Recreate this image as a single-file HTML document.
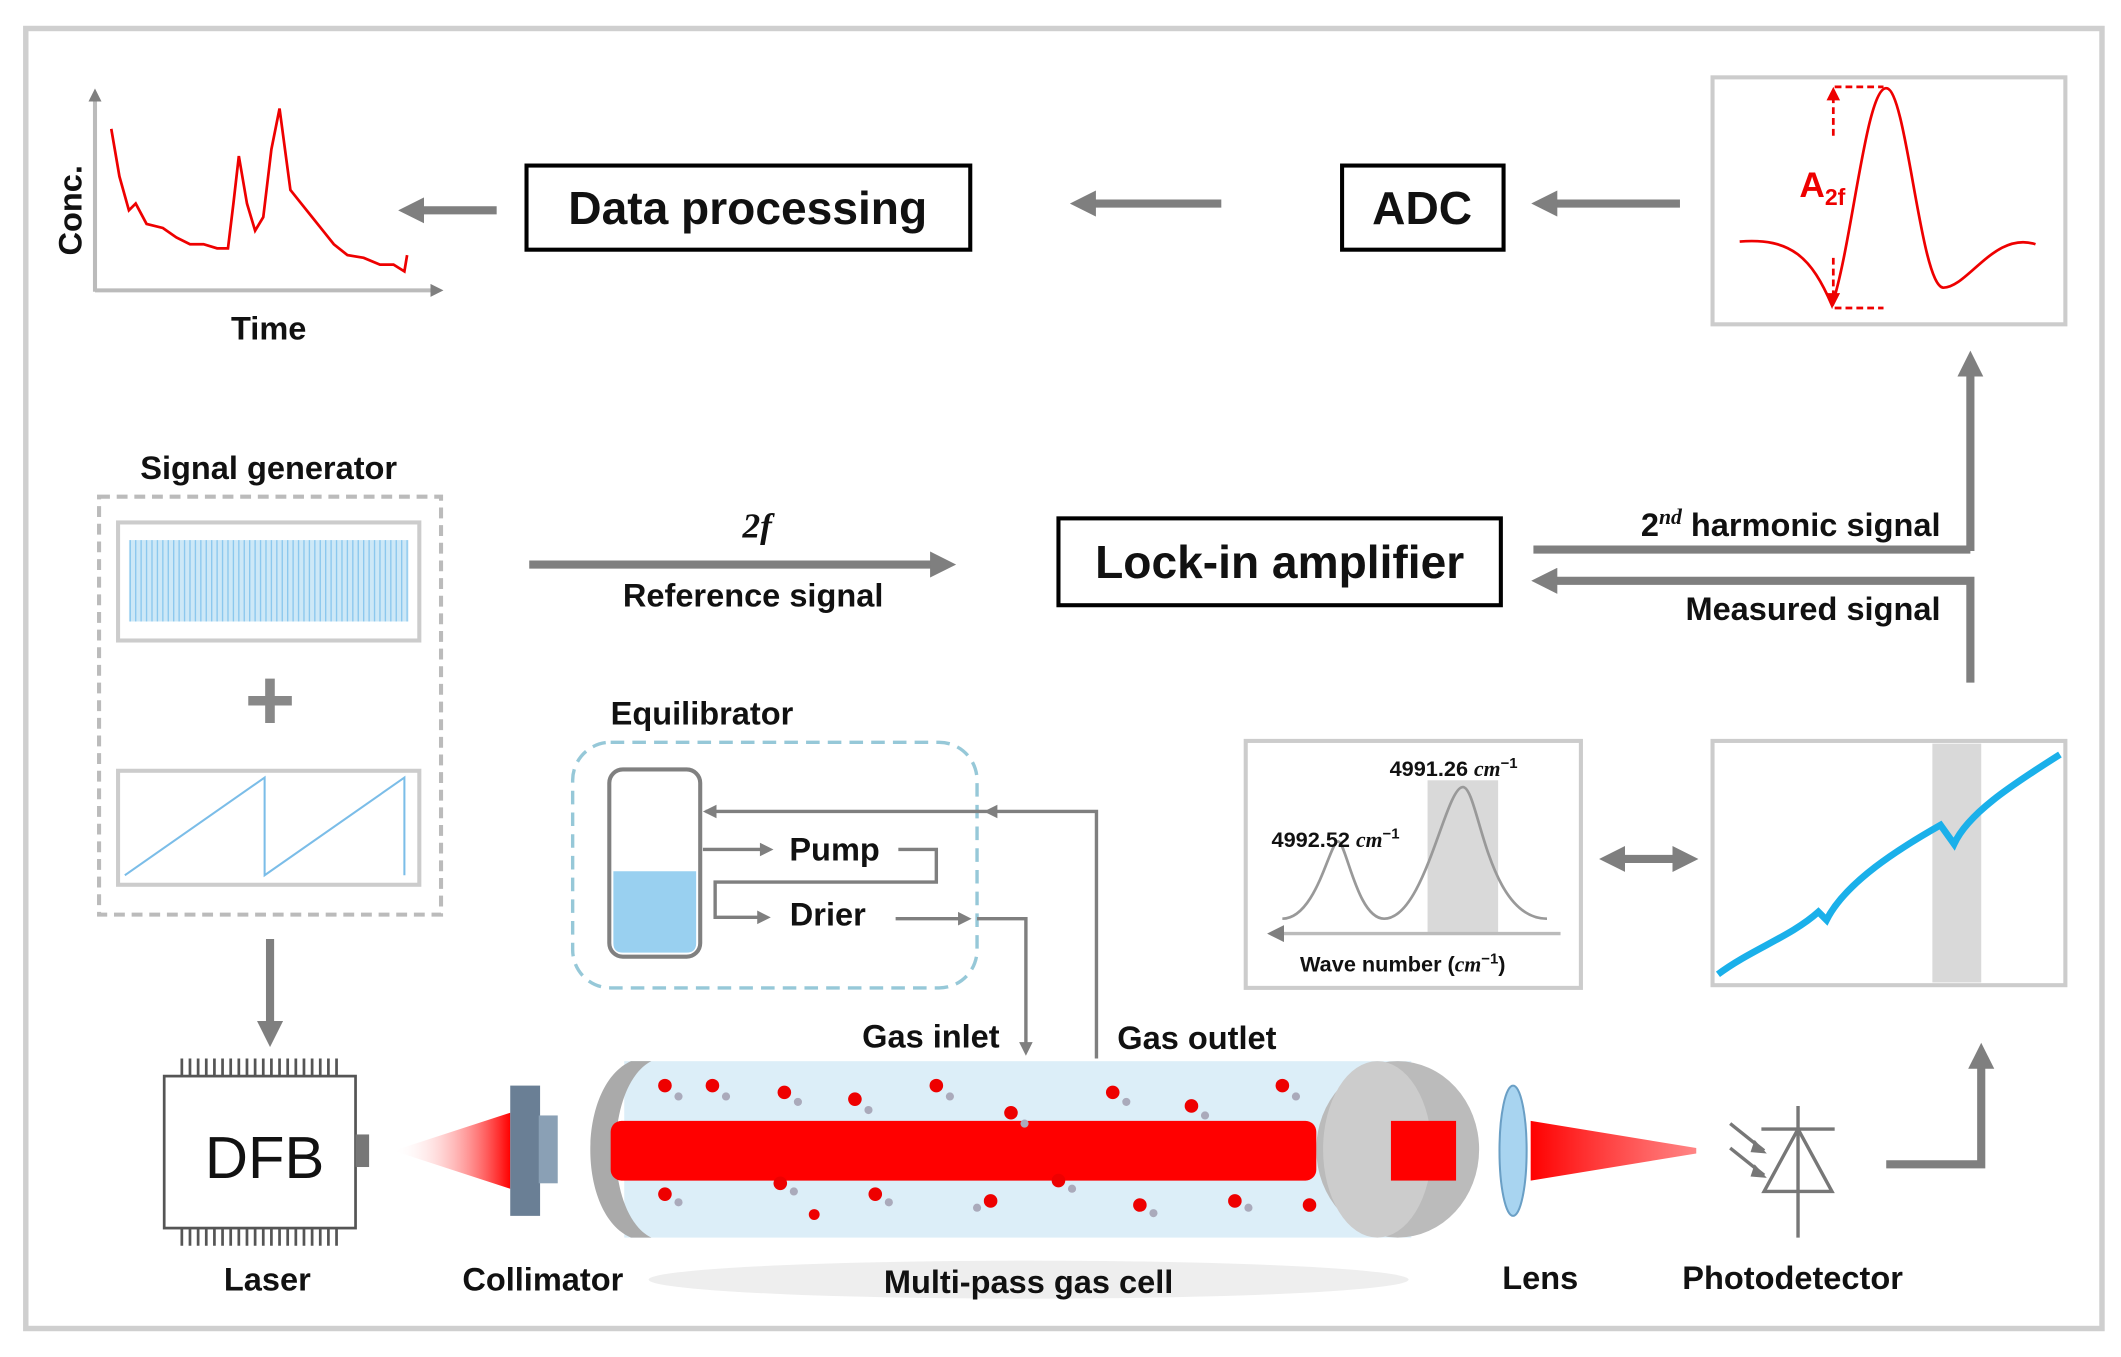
<!DOCTYPE html>
<html><head><meta charset="utf-8"><style>
html,body{margin:0;padding:0;background:#fff;}
svg{display:block;}
text{font-family:"Liberation Sans",sans-serif;font-weight:bold;fill:#111;}
</style></head><body>
<svg width="2121" height="1357" viewBox="0 0 1563 1000" xmlns="http://www.w3.org/2000/svg">
<defs>
<marker id="ah" viewBox="0 0 10 10" refX="5" refY="5" markerWidth="3.2" markerHeight="3.2" orient="auto-start-reverse"><path d="M0,0 L10,5 L0,10 z" fill="#7f7f7f"/></marker>
<marker id="ahs" viewBox="0 0 10 10" refX="5" refY="5" markerWidth="5" markerHeight="5" orient="auto-start-reverse"><path d="M0,0 L10,5 L0,10 z" fill="#7f7f7f"/></marker>
<linearGradient id="beamL" x1="0" x2="1"><stop offset="0" stop-color="#fff" stop-opacity="0"/><stop offset="1" stop-color="#f00"/></linearGradient>
<linearGradient id="beamR" x1="0" x2="1"><stop offset="0" stop-color="#f00"/><stop offset="1" stop-color="#f33" stop-opacity="0.6"/></linearGradient>
</defs>
<rect x="19" y="21" width="1530" height="958" fill="#fff" stroke="#cfcfcf" stroke-width="4"/>

<!-- Conc plot -->
<line x1="70" y1="215" x2="70" y2="70" stroke="#bbb" stroke-width="3" marker-end="url(#ah)"/>
<line x1="70" y1="214" x2="322" y2="214" stroke="#bbb" stroke-width="3" marker-end="url(#ah)"/>
<text x="60" y="155" font-size="24" transform="rotate(-90 60 155)" text-anchor="middle">Conc.</text>
<text x="198" y="250" font-size="24" text-anchor="middle">Time</text>
<polyline fill="none" stroke="#e00" stroke-width="2" points="82,95 88,130 95,155 100,150 108,165 120,168 130,175 140,180 150,180 160,183 168,183 172,150 176,115 182,150 188,170 194,160 200,110 206,80 210,110 214,140 222,150 230,160 238,170 246,180 256,188 268,190 280,195 290,195 298,200 300,188"/>

<!-- Data processing -->
<rect x="388" y="122" width="327" height="62" fill="#fff" stroke="#000" stroke-width="3"/>
<text x="551" y="165" font-size="34" text-anchor="middle">Data processing</text>
<line x1="366" y1="155" x2="303" y2="155" stroke="#7f7f7f" stroke-width="6" marker-end="url(#ah)"/>
<line x1="900" y1="150" x2="798" y2="150" stroke="#7f7f7f" stroke-width="6" marker-end="url(#ah)"/>
<rect x="989" y="122" width="119" height="62" fill="#fff" stroke="#000" stroke-width="3"/>
<text x="1048" y="165" font-size="34" text-anchor="middle">ADC</text>
<line x1="1238" y1="150" x2="1138" y2="150" stroke="#7f7f7f" stroke-width="6" marker-end="url(#ah)"/>

<!-- A2f plot -->
<rect x="1262" y="57" width="260" height="182" fill="#fff" stroke="#ccc" stroke-width="3"/>
<path d="M1282,178 C1320,175 1335,190 1350,225 C1365,180 1375,65 1390,65 C1405,65 1415,210 1432,212 C1450,212 1470,170 1500,180" fill="none" stroke="#e00" stroke-width="2"/>
<line x1="1352" y1="64" x2="1388" y2="64" stroke="#e00" stroke-width="2" stroke-dasharray="5,3"/>
<line x1="1352" y1="227" x2="1388" y2="227" stroke="#e00" stroke-width="2" stroke-dasharray="5,3"/>
<line x1="1351" y1="100" x2="1351" y2="70" stroke="#e00" stroke-width="2" stroke-dasharray="5,3"/>
<path d="M1346,74 L1351,64 L1356,74z" fill="#e00"/>
<line x1="1351" y1="190" x2="1351" y2="218" stroke="#e00" stroke-width="2" stroke-dasharray="5,3"/>
<path d="M1346,216 L1351,226 L1356,216z" fill="#e00"/>
<text x="1326" y="145" font-size="26" style="fill:#e00">A<tspan font-size="17" dy="6">2f</tspan></text>

<!-- up arrow right -->
<line x1="1452" y1="406" x2="1452" y2="268" stroke="#7f7f7f" stroke-width="6" marker-end="url(#ah)"/>

<!-- signal generator -->
<text x="198" y="353" font-size="24" text-anchor="middle">Signal generator</text>
<rect x="73" y="366" width="252" height="308" fill="none" stroke="#bbb" stroke-width="3" stroke-dasharray="8,5"/>
<rect x="87" y="385" width="222" height="87" fill="#fff" stroke="#ccc" stroke-width="3"/>
<rect x="95" y="398" width="206" height="60" fill="#cde8f7"/>
<g stroke="#8cc8ee" stroke-width="1">
<path d="M96,398 V458 M100,398 V458 M104,398 V458 M108,398 V458 M112,398 V458 M116,398 V458 M120,398 V458 M124,398 V458 M128,398 V458 M132,398 V458 M136,398 V458 M140,398 V458 M144,398 V458 M148,398 V458 M152,398 V458 M156,398 V458 M160,398 V458 M164,398 V458 M168,398 V458 M172,398 V458 M176,398 V458 M180,398 V458 M184,398 V458 M188,398 V458 M192,398 V458 M196,398 V458 M200,398 V458 M204,398 V458 M208,398 V458 M212,398 V458 M216,398 V458 M220,398 V458 M224,398 V458 M228,398 V458 M232,398 V458 M236,398 V458 M240,398 V458 M244,398 V458 M248,398 V458 M252,398 V458 M256,398 V458 M260,398 V458 M264,398 V458 M268,398 V458 M272,398 V458 M276,398 V458 M280,398 V458 M284,398 V458 M288,398 V458 M292,398 V458 M296,398 V458 M300,398 V458"/>
</g>
<text x="199" y="538" font-size="64" text-anchor="middle" style="fill:#888">+</text>
<rect x="87" y="568" width="222" height="84" fill="#fff" stroke="#ccc" stroke-width="3"/>
<polyline points="92,645 195,573 195,645 298,573 298,645" fill="none" stroke="#7bbde8" stroke-width="1.5"/>
<line x1="199" y1="692" x2="199" y2="762" stroke="#7f7f7f" stroke-width="6" marker-end="url(#ah)"/>

<!-- reference signal -->
<text x="558" y="396" font-size="26" text-anchor="middle" style="font-family:'Liberation Serif',serif;font-style:italic">2f</text>
<line x1="390" y1="416" x2="695" y2="416" stroke="#7f7f7f" stroke-width="6" marker-end="url(#ah)"/>
<text x="555" y="447" font-size="24" text-anchor="middle">Reference signal</text>
<rect x="780" y="382" width="326" height="64" fill="#fff" stroke="#000" stroke-width="3"/>
<text x="943" y="426" font-size="34" text-anchor="middle">Lock-in amplifier</text>
<polyline points="1130,405 1452,405" fill="none" stroke="#7f7f7f" stroke-width="6"/>
<text x="1430" y="395" font-size="24" text-anchor="end">2<tspan font-size="16" dy="-9" style="font-family:'Liberation Serif',serif;font-style:italic">nd</tspan><tspan dy="9"> harmonic signal</tspan></text>
<polyline points="1452,503 1452,428 1138,428" fill="none" stroke="#7f7f7f" stroke-width="6" marker-end="url(#ah)"/>
<text x="1430" y="457" font-size="24" text-anchor="end">Measured signal</text>

<!-- Equilibrator -->
<text x="450" y="534" font-size="24">Equilibrator</text>
<rect x="422" y="547" width="298" height="181" rx="28" fill="none" stroke="#96c8d8" stroke-width="2.5" stroke-dasharray="10,6"/>
<rect x="449" y="567" width="67" height="138" rx="10" fill="#fff" stroke="#808080" stroke-width="3"/>
<path d="M452,642 H513 V695 Q513,702 506,702 H459 Q452,702 452,695z" fill="#99d0f0"/>
<g fill="none" stroke="#7f7f7f" stroke-width="2.5">
<polyline points="808,780 808,598 730,598"/>
<polyline points="730,598 520,598"/>
<polyline points="518,626 562,626"/>
<polyline points="662,626 690,626 690,650 527,650 527,676 560,676"/>
<polyline points="660,677 710,677"/>
<polyline points="720,677 756,677 756,772"/>
</g>
<path d="M528,593 L518,598 L528,603z M735,593 L725,598 L735,603z M560,621 L570,626 L560,631z M558,671 L568,676 L558,681z M706,672 L716,677 L706,682z M751,768 L756,778 L761,768z" fill="#7f7f7f"/>
<text x="615" y="634" font-size="24" text-anchor="middle">Pump</text>
<text x="610" y="682" font-size="24" text-anchor="middle">Drier</text>

<!-- spectrum box -->
<rect x="918" y="546" width="247" height="182" fill="#fff" stroke="#ccc" stroke-width="3"/>
<rect x="1052" y="575" width="52" height="112" fill="#d9d9d9"/>
<path d="M945,677 C970,677 980,620 986,620 C992,620 1000,677 1020,677 C1050,677 1065,580 1078,580 C1090,580 1095,677 1140,677" fill="none" stroke="#999" stroke-width="2"/>
<line x1="1150" y1="688" x2="940" y2="688" stroke="#bbb" stroke-width="2.5" marker-end="url(#ahs)"/>
<text x="1024" y="572" font-size="16">4991.26 <tspan style="font-family:'Liberation Serif',serif;font-style:italic">cm</tspan><tspan font-size="11" dy="-6">−1</tspan></text>
<text x="937" y="624" font-size="16">4992.52 <tspan style="font-family:'Liberation Serif',serif;font-style:italic">cm</tspan><tspan font-size="11" dy="-6">−1</tspan></text>
<text x="958" y="716" font-size="16">Wave number (<tspan style="font-family:'Liberation Serif',serif;font-style:italic">cm</tspan><tspan font-size="11" dy="-6">−1</tspan><tspan dy="6">)</tspan></text>
<line x1="1188" y1="633" x2="1242" y2="633" stroke="#7f7f7f" stroke-width="6" marker-start="url(#ah)" marker-end="url(#ah)"/>

<!-- right spectrum -->
<rect x="1262" y="546" width="260" height="180" fill="#fff" stroke="#ccc" stroke-width="3"/>
<rect x="1424" y="548" width="36" height="176" fill="#d9d9d9"/>
<path d="M1266,718 C1290,700 1320,690 1340,672 L1346,678 C1360,650 1400,625 1430,608 L1440,622 C1450,600 1480,580 1518,556" fill="none" stroke="#1ab0ea" stroke-width="5"/>
<polyline points="1390,858 1460,858 1460,778" fill="none" stroke="#7f7f7f" stroke-width="6" marker-end="url(#ah)"/>

<!-- DFB -->
<g stroke="#555" stroke-width="2">
<path d="M134,780 V793 M140,780 V793 M146,780 V793 M152,780 V793 M158,780 V793 M164,780 V793 M170,780 V793 M176,780 V793 M182,780 V793 M188,780 V793 M194,780 V793 M200,780 V793 M206,780 V793 M212,780 V793 M218,780 V793 M224,780 V793 M230,780 V793 M236,780 V793 M242,780 V793 M248,780 V793"/>
<path d="M134,905 V918 M140,905 V918 M146,905 V918 M152,905 V918 M158,905 V918 M164,905 V918 M170,905 V918 M176,905 V918 M182,905 V918 M188,905 V918 M194,905 V918 M200,905 V918 M206,905 V918 M212,905 V918 M218,905 V918 M224,905 V918 M230,905 V918 M236,905 V918 M242,905 V918 M248,905 V918"/>
</g>
<rect x="121" y="793" width="141" height="112" fill="#fff" stroke="#555" stroke-width="2"/>
<rect x="262" y="836" width="10" height="24" fill="#777"/>
<text x="195" y="868" font-size="44" text-anchor="middle" style="font-weight:normal">DFB</text>
<text x="197" y="951" font-size="24" text-anchor="middle">Laser</text>

<!-- beam left -->
<polygon points="290,848 376,820 376,876" fill="url(#beamL)"/>
<rect x="376" y="800" width="22" height="96" fill="#6a7f95"/>
<rect x="397" y="822" width="14" height="50" fill="#8aa0b5"/>
<text x="400" y="951" font-size="24" text-anchor="middle">Collimator</text>

<!-- gas cell -->
<ellipse cx="758" cy="943" rx="280" ry="14" fill="#eee"/>
<rect x="460" y="782" width="580" height="130" fill="#dceef8"/>
<path d="M465,782 C425,800 425,895 465,912 L480,912 C445,895 445,800 480,782z" fill="#aaa"/>
<ellipse cx="1030" cy="847" rx="60" ry="65" fill="#bbb"/>
<ellipse cx="1015" cy="847" rx="40" ry="65" fill="#ccc"/>
<rect x="450" y="826" width="520" height="44" rx="8" fill="#f00"/>
<rect x="1025" y="826" width="48" height="44" fill="#f00"/>
<g fill="#e00">
<circle cx="490" cy="800" r="5"/><circle cx="525" cy="800" r="5"/><circle cx="578" cy="805" r="5"/><circle cx="630" cy="810" r="5"/><circle cx="690" cy="800" r="5"/><circle cx="745" cy="820" r="5"/><circle cx="820" cy="805" r="5"/><circle cx="878" cy="815" r="5"/><circle cx="945" cy="800" r="5"/><circle cx="490" cy="880" r="5"/><circle cx="575" cy="872" r="5"/><circle cx="645" cy="880" r="5"/><circle cx="730" cy="885" r="5"/><circle cx="780" cy="870" r="5"/><circle cx="840" cy="888" r="5"/><circle cx="910" cy="885" r="5"/><circle cx="965" cy="888" r="5"/><circle cx="600" cy="895" r="4"/>
</g>
<g fill="#aab">
<circle cx="500" cy="808" r="3"/><circle cx="535" cy="808" r="3"/><circle cx="588" cy="812" r="3"/><circle cx="640" cy="818" r="3"/><circle cx="700" cy="808" r="3"/><circle cx="755" cy="828" r="3"/><circle cx="830" cy="812" r="3"/><circle cx="888" cy="822" r="3"/><circle cx="955" cy="808" r="3"/><circle cx="500" cy="886" r="3"/><circle cx="585" cy="878" r="3"/><circle cx="655" cy="886" r="3"/><circle cx="720" cy="890" r="3"/><circle cx="790" cy="876" r="3"/><circle cx="850" cy="894" r="3"/><circle cx="920" cy="890" r="3"/>
</g>
<text x="686" y="772" font-size="24" text-anchor="middle">Gas inlet</text>
<text x="882" y="773" font-size="24" text-anchor="middle">Gas outlet</text>
<text x="758" y="953" font-size="24" text-anchor="middle">Multi-pass  gas cell</text>

<!-- lens -->
<ellipse cx="1115" cy="848" rx="10" ry="48" fill="#a8d4f0" stroke="#6a9fc5" stroke-width="1.5"/>
<polygon points="1128,826 1250,846 1250,850 1128,870" fill="url(#beamR)"/>
<text x="1135" y="950" font-size="24" text-anchor="middle">Lens</text>

<!-- photodetector -->
<g stroke="#777" stroke-width="2.5" fill="none">
<line x1="1325" y1="815" x2="1325" y2="912"/>
<line x1="1298" y1="832" x2="1352" y2="832"/>
<polygon points="1300,878 1350,878 1325,832"/>
<line x1="1275" y1="828" x2="1300" y2="848"/>
<line x1="1275" y1="846" x2="1300" y2="866"/>
</g>
<path d="M1293,840 L1302,850 L1290,849z M1293,858 L1302,868 L1290,867z" fill="#777"/>
<text x="1321" y="950" font-size="24" text-anchor="middle">Photodetector</text>
</svg>
</body></html>
